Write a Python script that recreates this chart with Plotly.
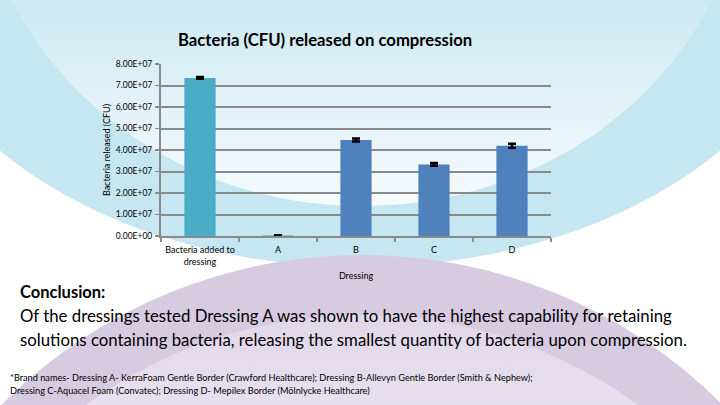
import base64
import plotly.graph_objects as go

# ---- data ----
categories = ["Bacteria added to<br>dressing", "A", "B", "C", "D"]
cfu_released = [7.35e7, 2.0e5, 4.47e7, 3.33e7, 4.20e7]
cfu_error = [0.04e7, 0.1e6, 0.07e7, 0.06e7, 0.09e7]
bar_colors = ["#4BACC6", "#4F81BD", "#4F81BD", "#4F81BD", "#4F81BD"]
y_tickvals = [0, 1e7, 2e7, 3e7, 4e7, 5e7, 6e7, 7e7, 8e7]
y_ticktext = ["0.00E+00", "1.00E+07", "2.00E+07", "3.00E+07", "4.00E+07",
              "5.00E+07", "6.00E+07", "7.00E+07", "8.00E+07"]

W, H = 720, 405
ML, MR, MT, MB = 161, 169, 64, 169
PW, PH = W - ML - MR, H - MT - MB

FONT = "Lato, 'Open Sans', sans-serif"

# ---- decorative slide background (SVG) ----
svg = f"""<svg xmlns='http://www.w3.org/2000/svg' width='{W}' height='{H}' viewBox='0 0 {W} {H}' preserveAspectRatio='none'>
<defs>
<linearGradient id='g1' gradientUnits='userSpaceOnUse' x1='0' y1='0' x2='0' y2='205'>
<stop offset='0' stop-color='#cde9f3'/><stop offset='1' stop-color='#f6fbfd'/>
</linearGradient>
<linearGradient id='g2' gradientUnits='userSpaceOnUse' x1='0' y1='300' x2='0' y2='405'>
<stop offset='0' stop-color='#e0d6e9'/><stop offset='1' stop-color='#e7e0ee'/>
</linearGradient>
</defs>
<rect width='{W}' height='{H}' fill='#ffffff'/>
<ellipse cx='360' cy='-60' rx='471' ry='327' fill='#c6e7f1'/>
<ellipse cx='362' cy='-150' rx='386' ry='356' fill='url(#g1)'/>
<ellipse cx='362' cy='755' rx='505' ry='500' fill='#d7cbe2'/>
<ellipse cx='362' cy='787' rx='470' ry='472' fill='url(#g2)'/>
</svg>"""
svg_uri = "data:image/svg+xml;base64," + base64.b64encode(svg.encode()).decode()

fig = go.Figure()
fig.add_trace(go.Bar(
    x=categories,
    y=cfu_released,
    marker=dict(color=bar_colors, line=dict(width=0)),
    width=0.4,
    error_y=dict(type="data", array=cfu_error, visible=True,
                 color="black", thickness=2.5, width=4),
    hoverinfo="skip",
))


def py(v):
    """pixel y (from top) -> paper y"""
    return (MT + PH - v) / PH


def px(v):
    return (v - ML) / PW


fig.update_layout(
    width=W, height=H,
    margin=dict(l=ML, r=MR, t=MT, b=MB, pad=0),
    paper_bgcolor="white",
    plot_bgcolor="rgba(0,0,0,0)",
    showlegend=False,
    font=dict(family=FONT, color="black"),
    images=[dict(source=svg_uri, xref="paper", yref="paper",
                 x=-ML / PW, y=1 + MT / PH, sizex=W / PW, sizey=H / PH,
                 xanchor="left", yanchor="top", sizing="stretch",
                 layer="below")],
    xaxis=dict(
        showgrid=False, showline=True, linecolor="#8a8a8a", linewidth=2,
        ticks="outside", tickson="boundaries", ticklen=4, tickcolor="#8a8a8a",
        tickwidth=1.5, tickangle=0, tickfont=dict(size=9, family=FONT),
        ticklabelstandoff=4,
        title=dict(text="Dressing", font=dict(size=9, family=FONT), standoff=7),
        automargin=False, fixedrange=True,
    ),
    yaxis=dict(
        range=[0, 8e7], tickvals=y_tickvals, ticktext=y_ticktext,
        showgrid=True, gridcolor="#8a8a8a", gridwidth=2,
        showline=True, linecolor="#8a8a8a", linewidth=2,
        ticks="outside", ticklen=4, tickcolor="#8a8a8a", tickwidth=1.5,
        tickfont=dict(size=8.5, family=FONT), ticklabelstandoff=1,
        title=dict(text="Bacteria released (CFU)", font=dict(size=9, family=FONT), standoff=4),
        zeroline=False, automargin=False, fixedrange=True,
    ),
    annotations=[
        dict(text="<b>Bacteria (CFU) released on compression</b>", xref="paper", yref="paper",
             x=px(325), y=py(40), xanchor="center", yanchor="middle",
             showarrow=False, font=dict(size=16.7, family=FONT)),
        dict(text="<b>Conclusion:</b>", xref="paper", yref="paper",
             x=px(18), y=py(292), xanchor="left", yanchor="middle",
             showarrow=False, font=dict(size=16.5, family=FONT)),
        dict(text="Of the dressings tested Dressing A was shown to have the highest capability for retaining",
             xref="paper", yref="paper",
             x=px(18), y=py(315), xanchor="left", yanchor="middle",
             showarrow=False, font=dict(size=16.8, family=FONT)),
        dict(text="solutions containing bacteria, releasing the smallest quantity of bacteria upon compression.",
             xref="paper", yref="paper",
             x=px(18), y=py(339), xanchor="left", yanchor="middle",
             showarrow=False, font=dict(size=16.8, family=FONT)),
        dict(text="*Brand names- Dressing A- KerraFoam Gentle Border (Crawford Healthcare); Dressing B-Allevyn Gentle Border (Smith &amp; Nephew);",
             xref="paper", yref="paper",
             x=px(8), y=py(377), xanchor="left", yanchor="middle",
             showarrow=False, font=dict(size=9.2, family=FONT)),
        dict(text="Dressing C-Aquacel Foam (Convatec); Dressing D- Mepilex Border (Mölnlycke Healthcare)",
             xref="paper", yref="paper",
             x=px(8), y=py(390), xanchor="left", yanchor="middle",
             showarrow=False, font=dict(size=9.2, family=FONT)),
    ],
)

fig.write_html("out.html", config={"displayModeBar": False, "staticPlot": True},
               post_script="document.body.style.margin='0';document.body.style.padding='0';")
